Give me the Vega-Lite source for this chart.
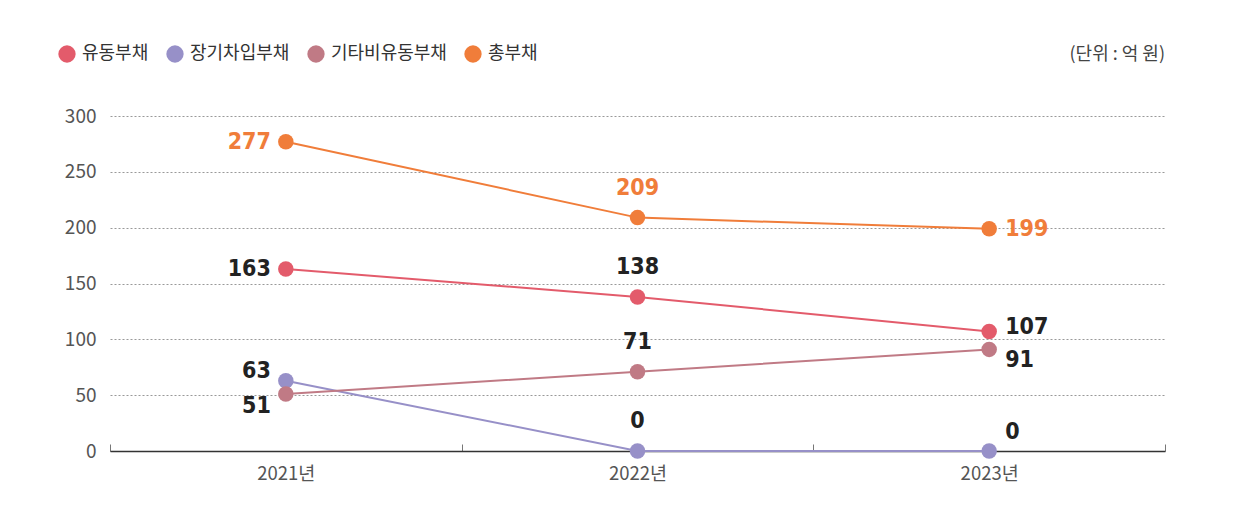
{
  "$schema": "https://vega.github.io/schema/vega-lite/v6.json",
  "width": 1055,
  "height": 335,
  "autosize": {"type": "none"},
  "padding": {"left": 110, "top": 116, "right": 76, "bottom": 70},
  "background": "#ffffff",
  "config": {
    "view": {"stroke": null},
    "font": "Noto Sans CJK KR"
  },
  "title": {
    "text": "(단위 : 억 원)",
    "anchor": "end",
    "orient": "top",
    "frame": "group",
    "fontSize": 18,
    "fontWeight": "normal",
    "color": "#444444",
    "font": "Noto Sans CJK KR",
    "baseline": "middle",
    "offset": -28
  },
  "data": {
    "values": [
      {"year": "2021년", "series": "유동부채", "value": 163},
      {"year": "2022년", "series": "유동부채", "value": 138},
      {"year": "2023년", "series": "유동부채", "value": 107},
      {"year": "2021년", "series": "장기차입부채", "value": 63},
      {"year": "2022년", "series": "장기차입부채", "value": 0},
      {"year": "2023년", "series": "장기차입부채", "value": 0},
      {"year": "2021년", "series": "기타비유동부채", "value": 51},
      {"year": "2022년", "series": "기타비유동부채", "value": 71},
      {"year": "2023년", "series": "기타비유동부채", "value": 91},
      {"year": "2021년", "series": "총부채", "value": 277},
      {"year": "2022년", "series": "총부채", "value": 209},
      {"year": "2023년", "series": "총부채", "value": 199}
    ]
  },
  "encoding": {
    "x": {
      "field": "year",
      "type": "nominal",
      "sort": null,
      "scale": {"type": "band", "paddingInner": 0, "paddingOuter": 0},
      "axis": {
        "title": null,
        "labelAngle": 0,
        "labelFontSize": 18.5,
        "labelColor": "#555555",
        "labelPadding": 20,
        "tickBand": "extent",
        "tickSize": -7,
        "tickColor": "#777777",
        "tickWidth": 1,
        "domainColor": "#333333",
        "domainWidth": 1.5,
        "grid": false
      }
    },
    "y": {
      "field": "value",
      "type": "quantitative",
      "scale": {"domain": [0, 300], "nice": false},
      "axis": {
        "title": null,
        "values": [0, 50, 100, 150, 200, 250, 300],
        "domain": false,
        "ticks": false,
        "labelFontSize": 19,
        "labelColor": "#555555",
        "labelPadding": 14,
        "gridDash": [2, 2],
        "gridColor": "#999999",
        "gridWidth": 1
      }
    }
  },
  "layer": [
    {
      "mark": {"type": "line", "strokeWidth": 2},
      "encoding": {
        "color": {
          "field": "series",
          "type": "nominal",
          "scale": {
            "domain": ["유동부채", "장기차입부채", "기타비유동부채", "총부채"],
            "range": ["#e35b6b", "#9790c8", "#c07a85", "#f07d3a"]
          },
          "legend": {
            "title": null,
            "orient": "none",
            "direction": "horizontal",
            "legendX": -52,
            "legendY": -71,
            "symbolType": "circle",
            "symbolSize": 300,
            "symbolStrokeWidth": 0,
            "symbolOpacity": 1,
            "labelFontSize": 18,
            "labelColor": "#333333",
            "labelOffset": 6,
            "columnPadding": 17,
            "labelFont": "Noto Sans CJK KR"
          }
        }
      }
    },
    {
      "mark": {"type": "point", "filled": true, "opacity": 1, "size": 240, "shape": "circle"},
      "encoding": {
        "color": {"field": "series", "type": "nominal"}
      }
    },
    {
      "transform": [{"filter": "datum.year === '2021년' && (datum.series === '총부채' || datum.series === '유동부채')"}],
      "mark": {"type": "text", "align": "right", "baseline": "middle", "dx": -15, "dy": 0, "fontSize": 23, "font": "DejaVu Sans Condensed, Liberation Sans Narrow, Roboto", "fontWeight": "bold"},
      "encoding": {
        "text": {"field": "value"},
        "color": {"condition": {"test": "datum.series === '총부채'", "value": "#f07d3a"}, "value": "#222222"}
      }
    },
    {
      "transform": [{"filter": "datum.year === '2021년' && datum.series === '장기차입부채'"}],
      "mark": {"type": "text", "align": "right", "baseline": "middle", "dx": -15, "dy": -10, "fontSize": 23, "font": "DejaVu Sans Condensed, Liberation Sans Narrow, Roboto", "fontWeight": "bold", "color": "#222222"},
      "encoding": {"text": {"field": "value"}}
    },
    {
      "transform": [{"filter": "datum.year === '2021년' && datum.series === '기타비유동부채'"}],
      "mark": {"type": "text", "align": "right", "baseline": "middle", "dx": -15, "dy": 12, "fontSize": 23, "font": "DejaVu Sans Condensed, Liberation Sans Narrow, Roboto", "fontWeight": "bold", "color": "#222222"},
      "encoding": {"text": {"field": "value"}}
    },
    {
      "transform": [{"filter": "datum.year === '2022년'"}],
      "mark": {"type": "text", "align": "center", "baseline": "middle", "dx": 0, "dy": -30, "fontSize": 23, "font": "DejaVu Sans Condensed, Liberation Sans Narrow, Roboto", "fontWeight": "bold"},
      "encoding": {
        "text": {"field": "value"},
        "color": {"condition": {"test": "datum.series === '총부채'", "value": "#f07d3a"}, "value": "#222222"}
      }
    },
    {
      "transform": [{"filter": "datum.year === '2023년' && datum.series === '총부채'"}],
      "mark": {"type": "text", "align": "left", "baseline": "middle", "dx": 16, "dy": 0, "fontSize": 23, "font": "DejaVu Sans Condensed, Liberation Sans Narrow, Roboto", "fontWeight": "bold", "color": "#f07d3a"},
      "encoding": {"text": {"field": "value"}}
    },
    {
      "transform": [{"filter": "datum.year === '2023년' && datum.series === '유동부채'"}],
      "mark": {"type": "text", "align": "left", "baseline": "middle", "dx": 16, "dy": -5, "fontSize": 23, "font": "DejaVu Sans Condensed, Liberation Sans Narrow, Roboto", "fontWeight": "bold", "color": "#222222"},
      "encoding": {"text": {"field": "value"}}
    },
    {
      "transform": [{"filter": "datum.year === '2023년' && datum.series === '기타비유동부채'"}],
      "mark": {"type": "text", "align": "left", "baseline": "middle", "dx": 16, "dy": 11, "fontSize": 23, "font": "DejaVu Sans Condensed, Liberation Sans Narrow, Roboto", "fontWeight": "bold", "color": "#222222"},
      "encoding": {"text": {"field": "value"}}
    },
    {
      "transform": [{"filter": "datum.year === '2023년' && datum.series === '장기차입부채'"}],
      "mark": {"type": "text", "align": "left", "baseline": "middle", "dx": 16, "dy": -19, "fontSize": 23, "font": "DejaVu Sans Condensed, Liberation Sans Narrow, Roboto", "fontWeight": "bold", "color": "#222222"},
      "encoding": {"text": {"field": "value"}}
    }
  ]
}
